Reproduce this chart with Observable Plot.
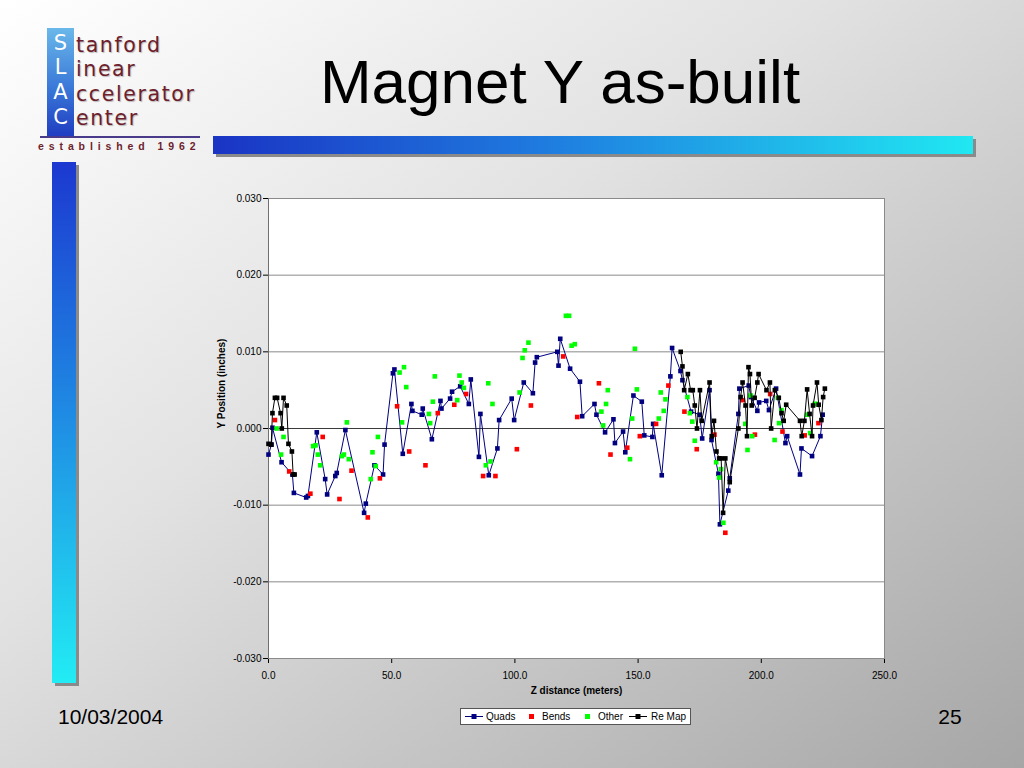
<!DOCTYPE html>
<html>
<head>
<meta charset="utf-8">
<script src="https://cdn.jsdelivr.net/npm/d3@7"></script>
<script src="https://cdn.jsdelivr.net/npm/@observablehq/plot@0.6"></script>
<style>
  html, body { margin: 0; padding: 0; }
  #slide {
    position: relative; width: 1024px; height: 768px; overflow: hidden;
    background: linear-gradient(to bottom right, #ffffff 0%, #e2e2e2 40%, #a6a6a6 100%);
    font-family: "Liberation Sans", Arial, sans-serif;
  }
  .abs { position: absolute; }
  #title { left: 200px; width: 720px; top: 47px; text-align: center; font-size: 62px; color: #000; line-height: 70px; }
  #hbar { left: 213px; top: 136px; width: 760px; height: 18px;
    background: linear-gradient(to right, #1a34c4 0%, #1f7ee0 45%, #20e8f2 100%);
    box-shadow: 3px 3px 0 #8a8a8a; }
  #vbar { left: 52px; top: 162px; width: 24px; height: 521px;
    background: linear-gradient(to bottom, #1c38d0 0%, #1f8ee4 50%, #22ecf4 100%);
    box-shadow: 3px 3px 0 #8a8a8a; }
  #logobar { left: 47px; top: 28px; width: 27px; height: 109px;
    background: linear-gradient(to bottom, #6ab8ea 0%, #3a78d8 55%, #1f3cc0 100%); }
  .ll { position: absolute; left: 48px; width: 25px; text-align: center; color: #fff; font-size: 21px; line-height: 21px; font-family: "DejaVu Sans", sans-serif; }
  .lt { position: absolute; left: 76px; color: #6e1e2c; font-size: 20.5px; line-height: 21px; font-family: "DejaVu Sans", sans-serif; letter-spacing: 1.6px; text-shadow: 1px 1px 1px rgba(0,0,0,0.25); }
  #logoline { left: 40px; top: 136px; width: 160px; height: 2px; background: #4a3a8a; }
  #est { left: 38px; top: 140px; font-size: 10.5px; letter-spacing: 4.9px; color: #6e1e2c; font-weight: bold; }
  #date { left: 58px; top: 705px; font-size: 21px; color: #000; }
  #page { left: 930px; top: 705px; width: 40px; text-align: center; font-size: 21px; color: #000; }
  #chart { left: 200px; top: 180px; }
  #legend { left: 460px; top: 708px; width: 229px; height: 15px; background: #fff; border: 1px solid #555;
    font-size: 10px; line-height: 15px; color: #000; }
  .lg { position: absolute; top: 0; }
  .sw { position: absolute; }
</style>
</head>
<body>
<div id="slide">
  <div id="logobar" class="abs"></div>
  <div class="ll" style="top:33px">S</div>
  <div class="ll" style="top:57px">L</div>
  <div class="ll" style="top:82px">A</div>
  <div class="ll" style="top:107px">C</div>
  <div class="lt" style="top:35px">tanford</div>
  <div class="lt" style="top:59px">inear</div>
  <div class="lt" style="top:84px">ccelerator</div>
  <div class="lt" style="top:108px">enter</div>
  <div id="logoline" class="abs"></div>
  <div id="est" class="abs">established 1962</div>
  <div id="title" class="abs">Magnet Y as-built</div>
  <div id="hbar" class="abs"></div>
  <div id="vbar" class="abs"></div>
  <div id="chart" class="abs"></div>
  <div id="legend" class="abs">
    <svg class="sw" style="left:3px;top:3px" width="20" height="9"><line x1="1" y1="4.5" x2="19" y2="4.5" stroke="#000080"/><rect x="7.5" y="2" width="5" height="5" fill="#000080"/></svg>
    <span class="lg" style="left:25px">Quads</span>
    <svg class="sw" style="left:66px;top:3px" width="9" height="9"><rect x="2" y="2" width="5" height="5" fill="#ff0000"/></svg>
    <span class="lg" style="left:81px">Bends</span>
    <svg class="sw" style="left:122px;top:3px" width="9" height="9"><rect x="2" y="2" width="5" height="5" fill="#00ff00"/></svg>
    <span class="lg" style="left:137px">Other</span>
    <svg class="sw" style="left:167px;top:3px" width="20" height="9"><line x1="1" y1="4.5" x2="19" y2="4.5" stroke="#000"/><rect x="7.5" y="2" width="5" height="5" fill="#000"/></svg>
    <span class="lg" style="left:190px">Re Map</span>
  </div>
  <div id="date" class="abs">10/03/2004</div>
  <div id="page" class="abs">25</div>
</div>
<script>
// ---- data ----
const xTicks = [0, 50, 100, 150, 200, 250];
const yTicks = [-0.03, -0.02, -0.01, 0, 0.01, 0.02, 0.03];

const quadsZ = [0.0, 1.2, 1.6, 5.3, 9.7, 10.3, 15.3, 16.0, 19.6, 23.0, 23.8, 27.1, 27.7, 31.2, 38.8, 39.5, 43.0, 46.5, 47.1, 50.5, 51.1, 54.5, 58.0, 58.4, 62.2, 62.6, 66.3, 69.8, 70.2, 73.7, 74.5, 77.8, 81.3, 82.1, 85.4, 86.0, 89.4, 92.9, 93.6, 98.7, 99.7, 103.6, 107.3, 108.2, 108.9, 117.2, 117.7, 118.4, 122.4, 126.4, 127.3, 132.3, 133.1, 136.6, 140.0, 140.6, 143.9, 144.8, 148.1, 151.5, 152.5, 155.8, 156.1, 159.6, 163.1, 163.8, 167.2, 168.0, 171.5, 175.0, 176.0, 179.0, 179.8, 182.6, 183.2, 186.6, 187.2, 190.7, 191.1, 194.9, 195.8, 198.4, 199.1, 202.0, 203.1, 206.0, 209.8, 210.5, 215.7, 216.3, 220.6, 224.0, 224.9];
const quadsY = [-0.0034, -0.0021, 0.0001, -0.0044, -0.0060, -0.0084, -0.0090, -0.0088, -0.0005, -0.0066, -0.0086, -0.0062, -0.0058, -0.0002, -0.0110, -0.0098, -0.0048, -0.0060, -0.0021, 0.0072, 0.0077, -0.0033, 0.0032, 0.0023, 0.0018, 0.0026, -0.0014, 0.0036, 0.0026, 0.0039, 0.0048, 0.0055, 0.0032, 0.0064, -0.0037, 0.0019, -0.0061, -0.0026, 0.0011, 0.0039, 0.0011, 0.0060, 0.0046, 0.0086, 0.0093, 0.0100, 0.0082, 0.0117, 0.0078, 0.0061, 0.0016, 0.0032, 0.0018, -0.0005, 0.0012, -0.0019, -0.0004, -0.0031, 0.0043, 0.0035, -0.0009, -0.0011, 0.0006, -0.0061, 0.0068, 0.0105, 0.0075, 0.0063, 0.0022, 0.0018, -0.0013, 0.0050, -0.0015, -0.0059, -0.0125, -0.0081, -0.0065, 0.0019, 0.0052, 0.0056, 0.0041, 0.0023, 0.0034, 0.0036, 0.0024, 0.0052, -0.0019, -0.0010, -0.0060, -0.0026, -0.0036, -0.0010, 0.0018];

const bendsZ = [2.6, 8.4, 17.0, 22.0, 28.8, 33.7, 40.3, 45.2, 52.2, 57.1, 63.7, 68.7, 75.4, 80.2, 87.1, 92.1, 100.8, 106.5, 119.6, 125.3, 134.1, 138.8, 145.6, 150.7, 157.3, 162.3, 168.8, 173.8, 181.0, 185.4, 192.5, 197.4, 203.6, 208.6, 217.6, 223.2];
const bendsY = [0.0011, -0.0056, -0.0085, -0.0011, -0.0092, -0.0055, -0.0116, -0.0065, 0.0029, -0.0030, -0.0048, 0.0020, 0.0031, 0.0045, -0.0062, -0.0062, -0.0027, 0.0030, 0.0094, 0.0015, 0.0059, -0.0034, -0.0025, -0.0010, 0.0006, 0.0056, 0.0022, -0.0027, -0.0008, -0.0136, 0.0037, -0.0008, 0.0045, -0.0004, -0.0009, 0.0007];

const otherZ = [3.3, 5.1, 6.1, 18.1, 19.1, 20.0, 21.0, 29.8, 30.6, 31.8, 32.6, 41.5, 42.2, 43.5, 44.4, 53.2, 54.2, 55.0, 55.9, 65.1, 65.6, 66.7, 67.5, 76.6, 77.5, 78.4, 79.3, 88.2, 89.2, 90.1, 90.9, 101.9, 103.1, 104.0, 105.5, 120.7, 122.0, 123.0, 124.3, 135.1, 135.8, 137.0, 137.7, 146.7, 147.6, 148.7, 149.5, 158.4, 159.2, 160.4, 161.1, 170.0, 171.0, 172.0, 173.0, 181.7, 182.9, 183.6, 184.6, 193.5, 194.4, 195.7, 196.3, 205.4, 206.7, 207.2, 208.2, 218.6, 219.8, 221.6, 222.5];
const otherY = [0.0000, -0.0034, -0.0011, -0.0023, -0.0022, -0.0034, -0.0048, -0.0036, -0.0034, 0.0008, -0.0040, -0.0066, -0.0031, -0.0049, -0.0011, 0.0073, 0.0008, 0.0080, 0.0054, 0.0019, 0.0007, 0.0035, 0.0068, 0.0037, 0.0069, 0.0060, 0.0053, -0.0048, 0.0059, -0.0043, 0.0032, 0.0047, 0.0092, 0.0102, 0.0112, 0.0147, 0.0147, 0.0108, 0.0110, 0.0022, 0.0004, 0.0032, 0.0050, -0.0040, 0.0013, 0.0104, 0.0051, 0.0013, 0.0047, 0.0023, 0.0038, 0.0041, 0.0020, 0.0009, -0.0016, -0.0044, -0.0064, -0.0053, -0.0123, 0.0006, -0.0028, 0.0043, -0.0010, -0.0015, 0.0040, 0.0007, 0.0024, 0.0018, -0.0006, 0.0032, 0.0032];

const remapSection = [1, 1, 1, 1, 1, 1, 1, 1, 1, 1, 1, 1, 1,
  2, 2, 2, 2, 2, 2, 2, 2, 2, 2, 2, 2, 2, 2, 2, 2, 2, 2, 2, 2, 2, 2, 2, 2, 2, 2, 2, 2, 2, 2, 2, 2, 2, 2, 2, 2, 2, 2, 2, 2, 2, 2, 2, 2, 2, 2, 2, 2, 2, 2];
const remapZ = [0.0, 1.1, 1.6, 2.6, 3.5, 4.9, 5.4, 6.1, 7.4, 8.1, 9.5, 10.0, 10.6,
  167.3, 168.0, 168.7, 170.2, 171.3, 172.2, 173.0, 173.9, 175.1, 175.8, 179.0, 179.9, 180.8, 181.8, 182.9, 183.7, 184.5, 185.4, 187.2, 190.7, 191.6, 192.4, 193.6, 194.2, 194.8, 195.4, 196.1, 197.3, 198.4, 198.9, 202.1, 203.5, 204.0, 205.5, 207.1, 208.2, 209.1, 210.1, 215.7, 216.4, 217.5, 218.6, 219.6, 220.6, 221.0, 222.6, 223.3, 224.4, 225.1, 225.8];
const remapY = [-0.0020, -0.0021, 0.0020, 0.0040, 0.0040, 0.0020, 0.0000, 0.0040, 0.0030, -0.0020, -0.0030, -0.0060, -0.0060,
  0.0100, 0.0081, 0.0050, 0.0071, 0.0050, 0.0050, 0.0030, 0.0000, 0.0050, 0.0010, 0.0060, -0.0010, 0.0010, -0.0030, -0.0039, -0.0039, -0.0110, -0.0039, -0.0070, 0.0000, 0.0041, 0.0060, 0.0030, -0.0010, 0.0080, 0.0071, 0.0030, 0.0040, 0.0060, 0.0071, 0.0050, 0.0060, 0.0000, 0.0050, 0.0040, 0.0020, 0.0010, 0.0031, 0.0010, -0.0010, 0.0010, 0.0051, 0.0019, -0.0010, 0.0030, 0.0060, 0.0031, 0.0011, 0.0041, 0.0052];

// ---- tables ----
const quads = quadsZ.map((z, i) => ({z, y: quadsY[i]}));
const bends = bendsZ.map((z, i) => ({z, y: bendsY[i]}));
const other = otherZ.map((z, i) => ({z, y: otherY[i]}));
const remap = remapZ.map((z, i) => ({z, y: remapY[i], s: remapSection[i]}));

const R = 2.6;
const chart = Plot.plot({
  width: 700,
  height: 540,
  marginLeft: 68,
  marginRight: 16,
  marginTop: 18,
  marginBottom: 62,
  style: {background: "transparent", fontFamily: "'Liberation Sans', Arial, sans-serif", fontSize: "10px", color: "#000", overflow: "visible"},
  x: {domain: [0, 250], ticks: xTicks, tickFormat: d => d.toFixed(1), label: null, tickSize: 5, tickPadding: 8},
  y: {domain: [-0.03, 0.03], ticks: yTicks, tickFormat: d => (Math.abs(d) < 1e-9 ? 0 : d).toFixed(3), label: null, tickSize: 5, tickPadding: 2},
  marks: [
    Plot.frame({fill: "white", stroke: null}),
    Plot.ruleY(yTicks, {stroke: "#8a8a8a", strokeWidth: 1}),
    Plot.ruleY([0], {stroke: "#3a3a3a", strokeWidth: 1}),
    Plot.frame({stroke: "#8a8a8a", strokeWidth: 1}),
    Plot.ruleX([0], {stroke: "#707070"}),
    Plot.line(quads, {x: "z", y: "y", stroke: "#000080", strokeWidth: 1}),
    Plot.dot(quads, {x: "z", y: "y", symbol: "square", r: R, fill: "#000080", stroke: null}),
    Plot.dot(bends, {x: "z", y: "y", symbol: "square", r: R, fill: "#ff0000", stroke: null}),
    Plot.dot(other, {x: "z", y: "y", symbol: "square", r: R, fill: "#00ff00", stroke: null}),
    Plot.line(remap, {x: "z", y: "y", z: "s", stroke: "#000000", strokeWidth: 1}),
    Plot.dot(remap, {x: "z", y: "y", symbol: "square", r: R, fill: "#000000", stroke: null}),
    Plot.text(["Z distance (meters)"], {frameAnchor: "bottom", dy: 35, fontWeight: "bold", fontSize: 10}),
    Plot.text(["Y Position (inches)"], {frameAnchor: "left", dx: -47, rotate: -90, fontWeight: "bold", fontSize: 10})
  ]
});
document.getElementById("chart").appendChild(chart);
</script>
</body>
</html>
